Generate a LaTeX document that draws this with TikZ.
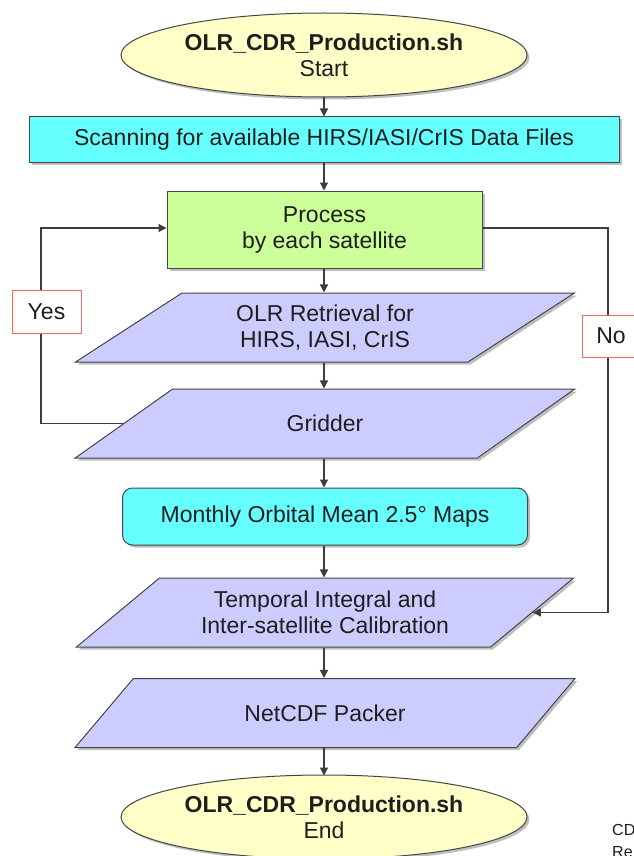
\documentclass[tikz,border=0pt]{standalone}
\usepackage{fontspec}
\setmainfont{Liberation Sans}
\usetikzlibrary{shapes.geometric,shadows,arrows.meta,calc}
\definecolor{termfill}{RGB}{255,255,200}
\definecolor{cyanfill}{RGB}{102,255,255}
\definecolor{greenfill}{RGB}{204,255,153}
\definecolor{lavfill}{RGB}{204,204,255}
\definecolor{edgegray}{RGB}{70,70,70}
\definecolor{linegray}{RGB}{60,60,60}
\definecolor{labred}{RGB}{255,100,100}
\definecolor{textgray}{RGB}{30,30,30}
\tikzset{
  base/.style={draw=edgegray, line width=1pt, align=center, inner sep=0pt, text=textgray,
    font=\fontsize{23}{26}\selectfont,
    drop shadow={shadow xshift=2.5pt, shadow yshift=-2.5pt, opacity=0.25, fill=black}},
  term/.style={base, ellipse, fill=termfill, minimum width=406pt, minimum height=84pt},
  procbox/.style={base, rectangle, minimum height=45pt},
  iobox/.style={base, trapezium, trapezium left angle=34.6, trapezium right angle=145.4,
    trapezium stretches=true, minimum width=500pt, minimum height=69pt, fill=lavfill},
  lab/.style={draw=labred, line width=1pt, fill=white, inner sep=0pt, text=textgray,
    font=\fontsize{23}{26}\selectfont},
  conn/.style={draw=linegray, line width=1.2pt, -{Triangle[width=8pt,length=8pt]}},
  plain/.style={draw=linegray, line width=1.2pt}
}
\begin{document}
\begin{tikzpicture}[x=1pt,y=-1pt]
\useasboundingbox (0,0) rectangle (633,856);
\node[term] (start) at (324,55) {\textbf{OLR\_CDR\_Production.sh}\\Start};
\node[procbox, fill=cyanfill, minimum width=590pt] (scan) at (324,139.5) {Scanning for available HIRS/IASI/CrIS Data Files};
\node[procbox, fill=greenfill, minimum width=315pt, minimum height=77pt] (proc) at (324.5,229.5) {Process\\by each satellite};
\node[iobox] (olr) at (325,327.5) {OLR Retrieval for\\HIRS, IASI, CrIS};
\node[iobox] (grid) at (325,423.5) {Gridder};
\node[procbox, fill=cyanfill, rounded corners=10pt, minimum width=405pt, minimum height=57pt] (month) at (325,516.5) {Monthly Orbital Mean 2.5° Maps};
\node[iobox] (temp) at (325,612.5) {Temporal Integral and\\Inter-satellite Calibration};
\node[iobox] (netcdf) at (325,713) {NetCDF Packer};
\node[term] (end) at (324,817) {\textbf{OLR\_CDR\_Production.sh}\\End};

\coordinate (yesl) at (41,228);
\coordinate (nor) at (608,228);

\draw[conn] (start.south) -- (start.south |- scan.north);
\draw[conn] (scan.south -| start.south) -- (start.south |- proc.north);
\draw[conn] (proc.south -| start.south) -- (start.south |- olr.north);
\draw[conn] (olr.south -| start.south) -- (start.south |- grid.north);
\draw[conn] (grid.south -| start.south) -- (start.south |- month.north);
\draw[conn] (month.south -| start.south) -- (start.south |- temp.north);
\draw[conn] (temp.south -| start.south) -- (start.south |- netcdf.north);
\draw[conn] (netcdf.south -| start.south) -- ($(start.south |- end.north)+(0,1)$);

% Yes loop
\coordinate (gl) at ($(grid.top left corner)!0.5!(grid.bottom left corner)$);
\draw[conn] (gl) -- (gl -| yesl) -- (yesl) -- (yesl -| proc.west);
% No loop
\coordinate (tr) at ($(temp.top right corner)!0.5!(temp.bottom right corner)$);
\draw[conn] (proc.east |- nor) -- (nor) -- (nor |- tr) -- (tr);

\node[lab, minimum width=69pt, minimum height=43pt] (yes) at (46.5,311.5) {Yes};
\node[lab, minimum width=58pt, minimum height=42pt] (no) at (611,336) {No};

\node[anchor=west, inner sep=0pt, text=textgray, font=\fontsize{16}{20}\selectfont] (cd) at (612,830) {CD};
\node[anchor=west, inner sep=0pt, text=textgray, font=\fontsize{16}{20}\selectfont] (re) at (612,852) {Re};
\end{tikzpicture}
\end{document}
